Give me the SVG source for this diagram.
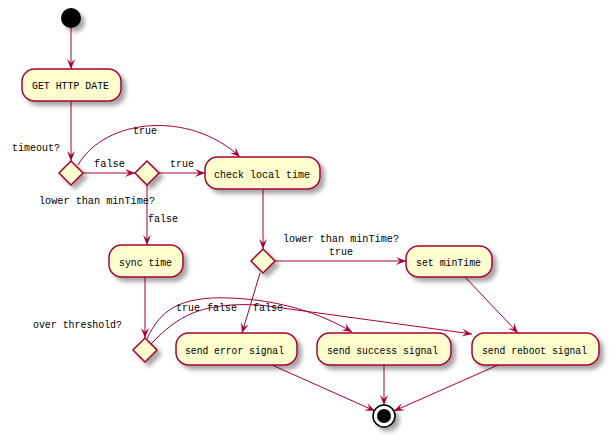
<svg xmlns="http://www.w3.org/2000/svg" width="610" height="438" viewBox="0 0 610 438">
<defs>
<filter id="sh" x="-20%" y="-20%" width="150%" height="160%">
<feGaussianBlur in="SourceAlpha" stdDeviation="2"/>
<feOffset dx="4" dy="4" result="b"/>
<feFlood flood-color="#000" flood-opacity="0.35"/>
<feComposite in2="b" operator="in"/>
<feMerge><feMergeNode/><feMergeNode in="SourceGraphic"/></feMerge>
</filter>
<marker id="ah" markerUnits="userSpaceOnUse" markerWidth="12" markerHeight="10" viewBox="0 0 10 10" refX="10" refY="5" orient="auto">
<path d="M0,1 L10,5 L0,9 L4,5 Z" fill="#A80036"/>
</marker>
</defs>
<style>
.box{fill:#FEFECE;stroke:#A80036;stroke-width:1.5;}
.dia{fill:#FEFECE;stroke:#A80036;stroke-width:1.5;}
.t{font-family:"Liberation Mono","DejaVu Sans Mono",monospace;font-size:11.5px;fill:#000;}
.e{fill:none;stroke:#A80036;stroke-width:1;marker-end:url(#ah);}
</style>
<rect width="610" height="438" fill="#fff"/>
<g id="connectors">
<path class="e" d="M71,28 L71,69"/>
<path class="e" d="M71,101 L71,161"/>
<path class="e" d="M83,173 L135,173"/>
<path class="e" d="M78,165 C105,118 190,110 240,157"/>
<path class="e" d="M159,173 L205,173"/>
<path class="e" d="M147,185 L147,245"/>
<path class="e" d="M263,189 L263,249"/>
<path class="e" d="M275,261 L406,261"/>
<path class="e" d="M260,273 L242,333"/>
<path class="e" d="M145,277 L145,338"/>
<path class="e" d="M147,339 C160,310 180,296 230,298 C280,300 320,313 352,332"/>
<path class="e" d="M151,344 C178,316 200,302 260,305 L472,334"/>
<path class="e" d="M465,277 L518,333"/>
<path class="e" d="M272,365 L375,411"/>
<path class="e" d="M384,365 L384,405"/>
<path class="e" d="M498,365 L394,411"/>
<text class="t" x="133" y="134" textLength="24" lengthAdjust="spacingAndGlyphs">true</text>
<text class="t" x="94" y="167" textLength="31" lengthAdjust="spacingAndGlyphs">false</text>
<text class="t" x="170" y="167" textLength="24" lengthAdjust="spacingAndGlyphs">true</text>
<text class="t" x="148" y="222" textLength="30" lengthAdjust="spacingAndGlyphs">false</text>
<text class="t" x="329" y="255" textLength="24" lengthAdjust="spacingAndGlyphs">true</text>
<text class="t" x="176" y="311" textLength="24" lengthAdjust="spacingAndGlyphs">true</text>
<text class="t" x="207" y="311" textLength="30" lengthAdjust="spacingAndGlyphs">false</text>
<text class="t" x="253" y="311" textLength="30" lengthAdjust="spacingAndGlyphs">false</text>
</g>
<g id="start"><circle cx="71" cy="18" r="10" fill="#000" filter="url(#sh)"/></g>
<g id="get_http_date"><rect class="box" x="22" y="69" width="99" height="32" rx="12.5" filter="url(#sh)"/><text class="t" x="32" y="89" textLength="77" lengthAdjust="spacingAndGlyphs">GET HTTP DATE</text></g>
<g id="timeout"><polygon class="dia" points="71,161 83,173 71,185 59,173" filter="url(#sh)"/><text class="t" x="12" y="151" textLength="48" lengthAdjust="spacingAndGlyphs">timeout?</text></g>
<g id="lower1"><polygon class="dia" points="147,161 159,173 147,185 135,173" filter="url(#sh)"/><text class="t" x="39" y="204" textLength="116" lengthAdjust="spacingAndGlyphs">lower than minTime?</text></g>
<g id="check_local_time"><rect class="box" x="205" y="157" width="115" height="32" rx="12.5" filter="url(#sh)"/><text class="t" x="214" y="178" textLength="96" lengthAdjust="spacingAndGlyphs">check local time</text></g>
<g id="sync_time"><rect class="box" x="109" y="245" width="74" height="32" rx="12.5" filter="url(#sh)"/><text class="t" x="119" y="266" textLength="53" lengthAdjust="spacingAndGlyphs">sync time</text></g>
<g id="lower2"><polygon class="dia" points="263,249 275,261 263,273 251,261" filter="url(#sh)"/><text class="t" x="283" y="242" textLength="116" lengthAdjust="spacingAndGlyphs">lower than minTime?</text></g>
<g id="set_mintime"><rect class="box" x="406" y="246" width="86" height="31" rx="12.5" filter="url(#sh)"/><text class="t" x="416" y="266" textLength="65" lengthAdjust="spacingAndGlyphs">set minTime</text></g>
<g id="over_threshold"><polygon class="dia" points="145,338 157,350 145,362 133,350" filter="url(#sh)"/><text class="t" x="33" y="328" textLength="89" lengthAdjust="spacingAndGlyphs">over threshold?</text></g>
<g id="send_error"><rect class="box" x="176" y="333" width="121" height="32" rx="12.5" filter="url(#sh)"/><text class="t" x="185" y="354" textLength="99" lengthAdjust="spacingAndGlyphs">send error signal</text></g>
<g id="send_success"><rect class="box" x="317" y="333" width="134" height="32" rx="12.5" filter="url(#sh)"/><text class="t" x="327" y="354" textLength="111" lengthAdjust="spacingAndGlyphs">send success signal</text></g>
<g id="send_reboot"><rect class="box" x="472" y="333" width="127" height="32" rx="12.5" filter="url(#sh)"/><text class="t" x="482" y="354" textLength="105" lengthAdjust="spacingAndGlyphs">send reboot signal</text></g>
<g id="end"><circle cx="384" cy="416" r="11" fill="#fff" stroke="#000" stroke-width="1.5" filter="url(#sh)"/><circle cx="384" cy="416" r="7" fill="#000"/></g>
</svg>
